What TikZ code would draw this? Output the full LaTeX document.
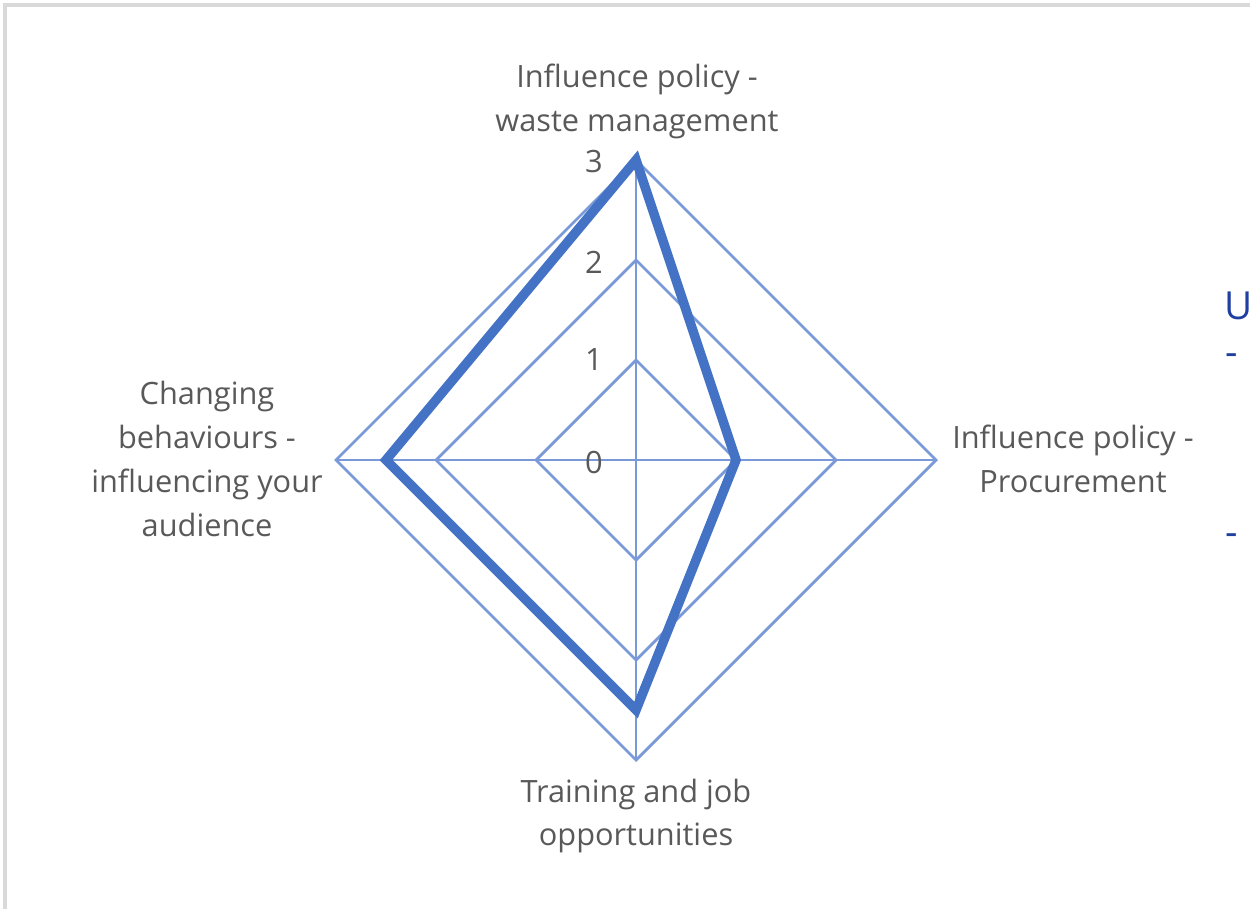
\documentclass[tikz,border=0pt]{standalone}
\usepackage{fontspec}
\setmainfont{Open Sans}
\usetikzlibrary{positioning}
\definecolor{gridblue}{RGB}{122,153,216}
\definecolor{seriesblue}{RGB}{68,114,196}
\definecolor{labelgray}{RGB}{89,89,89}
\definecolor{framegray}{RGB}{217,217,217}
\definecolor{notenavy}{RGB}{31,63,160}
\tikzset{
  axislabel/.style={text=labelgray, font=\fontsize{17.5}{25}\selectfont, align=center, inner sep=0pt},
  ticklabel/.style={text=labelgray, font=\fontsize{17.5}{20}\selectfont, anchor=east, inner sep=0pt},
  gridline/.style={draw=gridblue, line width=1.6pt},
  seriesline/.style={draw=seriesblue, line width=5.4pt, line join=miter},
  notetext/.style={text=notenavy, font=\fontsize{22}{26}\selectfont, anchor=west, inner sep=0pt}
}

\begin{document}
\begin{tikzpicture}[x=0.02cm,y=-0.02cm]
\useasboundingbox (0,0) rectangle (1250,909);

% chart frame
\draw [framegray,line width=1.8pt] (5,909) -- (5,5) -- (1250,5);

\coordinate (C) at (636,460);
\foreach \r in {1,2,3} {
  \coordinate (T\r) at (636,460-100*\r);
  \coordinate (R\r) at (636+100*\r,460);
  \coordinate (B\r) at (636,460+100*\r);
  \coordinate (L\r) at (636-100*\r,460);
  \draw [gridline] (T\r) -- (R\r) -- (B\r) -- (L\r) -- cycle;
}
\draw [gridline] (T3) -- (B3);
\draw [gridline] (L3) -- (R3);

% series
\coordinate (D1) at (636,160);
\coordinate (D2) at (736,460);
\coordinate (D3) at (636,710);
\coordinate (D4) at (386,460);
\draw [seriesline] (D1) -- (D2) -- (D3) -- (D4) -- cycle;

% scale
\node (S0) at (603,462)[ticklabel] {0};
\node (S1) at (603,360)[ticklabel] {1};
\node (S2) at (603,262)[ticklabel] {2};
\node (S3) at (603,162)[ticklabel] {3};

% axis labels
\node (A1) at (637,101)[axislabel] {Influence policy -\\waste management};
\node (A2) at (1073,459)[axislabel] {Influence policy -\\Procurement};
\node (A3) at (636,816)[axislabel] {Training and job\\opportunities};
\node (A4) at (207,459)[axislabel] {Changing\\behaviours -\\influencing your\\audience};

% cut-off text at the right
\node (U1) at (1224,306)[notetext] {U};
\node (U2) at (1225,360)[notetext] {-};
\node (U3) at (1225,540)[notetext] {-};
\end{tikzpicture}
\end{document}
